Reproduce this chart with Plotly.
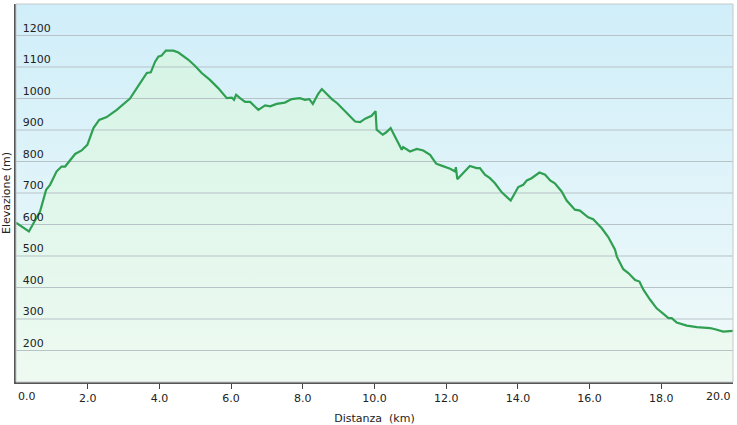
import plotly.graph_objects as go

# ---- data ----
distance_km = [0.00, 0.36, 0.67, 0.84, 0.95, 1.13, 1.27, 1.37, 1.65, 1.83, 1.99, 2.16, 2.32, 2.53,
               2.81, 3.04, 3.18, 3.37, 3.51, 3.65, 3.76, 3.88, 3.97, 4.06, 4.18, 4.39, 4.53,
               4.81, 4.99, 5.18, 5.41, 5.64, 5.88, 6.02, 6.08, 6.14, 6.25, 6.39, 6.53, 6.76,
               6.95, 7.09, 7.27, 7.50, 7.69, 7.92, 8.06, 8.18, 8.28, 8.43, 8.53, 8.62, 8.81,
               8.96, 9.18, 9.32, 9.46, 9.60, 9.74, 9.92, 10.03, 10.06, 10.23, 10.32, 10.45,
               10.57, 10.76, 10.80, 10.99, 11.18, 11.36, 11.55, 11.72, 11.87, 12.11, 12.25,
               12.27, 12.31, 12.48, 12.66, 12.85, 12.94, 13.08, 13.22, 13.36, 13.55, 13.80,
               14.01, 14.15, 14.25, 14.38, 14.60, 14.76, 14.90, 15.03, 15.22, 15.36, 15.59,
               15.73, 15.96, 16.10, 16.34, 16.52, 16.71, 16.76, 16.94, 17.08, 17.27, 17.39,
               17.50, 17.69, 17.87, 18.06, 18.20, 18.29, 18.43, 18.71, 18.99, 19.36, 19.45,
               19.73, 19.96, 20.00]
elevation_m = [606, 578, 641, 710, 726, 768, 784, 784, 824, 835, 853, 906, 932, 941,
               964, 985, 1000, 1033, 1059, 1081, 1083, 1117, 1133, 1136, 1152, 1152, 1146,
               1123, 1104, 1081, 1059, 1033, 1001, 1003, 996, 1012, 1001, 989, 989, 964,
               978, 975, 983, 987, 998, 1001, 996, 998, 983, 1015, 1030, 1019, 998,
               985, 959, 943, 927, 925, 936, 945, 960, 901, 885, 892, 906,
               879, 837, 846, 832, 840, 835, 821, 793, 787, 777, 768,
               782, 744, 763, 786, 779, 779, 758, 747, 731, 702, 676,
               719, 726, 740, 747, 765, 758, 740, 731, 705, 676, 647,
               644, 623, 617, 588, 560, 520, 498, 458, 446, 424, 419,
               393, 361, 334, 316, 303, 303, 289, 279, 274, 271, 269,
               260, 260, 262]

x_tick_values = [0, 2, 4, 6, 8, 10, 12, 14, 16, 18, 20]
x_tick_labels = ["0.0", "2.0", "4.0", "6.0", "8.0", "10.0", "12.0", "14.0", "16.0", "18.0", "20.0"]
y_tick_values = [200, 300, 400, 500, 600, 700, 800, 900, 1000, 1100, 1200]
y_tick_labels = ["200", "300", "400", "500", "600", "700", "800", "900", "1000", "1100", "1200"]

x_range = [0, 20]
y_range = [100, 1300]

FONT = "DejaVu Sans, Verdana, sans-serif"

fig = go.Figure()

# background gradient panel spanning the axis ranges
fig.add_trace(go.Scatter(
    x=[x_range[0], x_range[1], x_range[1], x_range[0], x_range[0]],
    y=[y_range[0], y_range[0], y_range[1], y_range[1], y_range[0]],
    mode="none", fill="toself",
    fillgradient=dict(type="vertical", start=y_range[0], stop=y_range[1],
                      colorscale=[[0, "#f1fafa"], [1, "#d0eef9"]]),
    hoverinfo="skip", showlegend=False,
))

# area under the elevation profile
fig.add_trace(go.Scatter(
    x=distance_km, y=elevation_m, mode="none",
    fill="tozeroy",
    fillgradient=dict(type="vertical", start=y_range[0], stop=1150,
                      colorscale=[[0, "#eefaf1"], [1, "#d6f4e6"]]),
    hoverinfo="skip", showlegend=False,
))

# horizontal grid lines (above the area, below the profile line)
grid_x, grid_y = [], []
for v in y_tick_values:
    grid_x += [x_range[0], x_range[1], None]
    grid_y += [v, v, None]
fig.add_trace(go.Scatter(
    x=grid_x, y=grid_y, mode="lines",
    line=dict(color="#b7c3c7", width=1),
    hoverinfo="skip", showlegend=False,
))

# elevation profile line
fig.add_trace(go.Scatter(
    x=distance_km, y=elevation_m, mode="lines",
    line=dict(color="#2f9f52", width=2.2),
    showlegend=False,
))

# end tick labels (kept inside the frame like the original)
inner_labels = list(zip(x_tick_values, x_tick_labels))[1:-1]
annotations = [
    dict(x=x_tick_values[0], y=0, xref="x", yref="paper", text=x_tick_labels[0],
         showarrow=False, xanchor="left", yanchor="top", yshift=-6,
         font=dict(family=FONT, size=11, color="#222")),
    dict(x=x_tick_values[-1], y=0, xref="x", yref="paper", text=x_tick_labels[-1],
         showarrow=False, xanchor="right", yanchor="top", yshift=-6,
         font=dict(family=FONT, size=11, color="#222")),
]

fig.update_layout(
    width=737, height=425,
    margin=dict(l=16, r=4, t=4, b=43, autoexpand=False),
    paper_bgcolor="white",
    plot_bgcolor="white",
    font=dict(family=FONT, size=11, color="#222"),
    annotations=annotations,
    shapes=[dict(type="rect", xref="paper", yref="paper", x0=0, x1=1, y0=0, y1=1,
                 line=dict(color="#c4c8ca", width=1), layer="above")],
)

fig.update_xaxes(
    range=x_range, tickmode="array", tickvals=[v for v, _ in inner_labels],
    ticktext=[t for _, t in inner_labels],
    ticks="outside", ticklen=5, tickcolor="#444", tickwidth=1,
    showgrid=False, zeroline=False, automargin=False,
    showline=True, linecolor="#555", linewidth=2,
    title=dict(text="Distanza&nbsp; (km)", font=dict(family=FONT, size=11, color="#222")),
    tickfont=dict(family=FONT, size=11, color="#222"),
)
fig.update_yaxes(
    range=y_range, tickmode="array", tickvals=y_tick_values, ticktext=y_tick_labels,
    ticklabelposition="inside top", ticklabelstandoff=5, ticks="",
    showgrid=False,
    zeroline=False, showline=True, linecolor="#555", linewidth=2, automargin=False,
    title=dict(text="Elevazione (m)", font=dict(family=FONT, size=11, color="#222")),
    tickfont=dict(family=FONT, size=11, color="#222"),
)

fig.write_html("out.html", config={"displayModeBar": False},
               post_script="document.body.style.margin='0';")
